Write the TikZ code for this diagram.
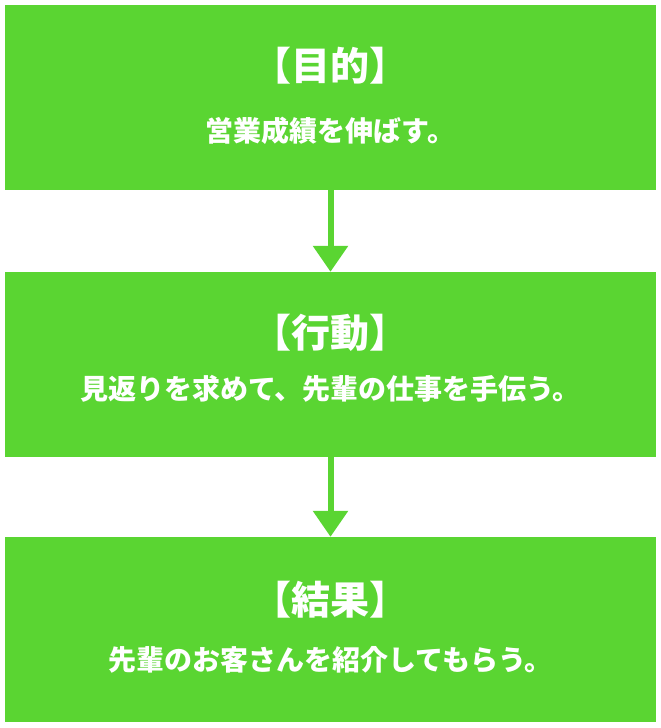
\documentclass[tikz,border=0pt]{standalone}
\usepackage{fontspec}
\usetikzlibrary{arrows.meta}
\newfontfamily\cjk{Noto Sans CJK JP}
\definecolor{lime}{HTML}{5AD532}
\begin{document}
\begin{tikzpicture}[x=1pt,y=-1pt,
  box/.style={fill=lime,draw=none,minimum width=651pt,minimum height=185pt,inner sep=0pt},
  ttl/.style={text=white,font=\cjk\bfseries\fontsize{39}{44}\selectfont},
  sub/.style={text=white,font=\cjk\bfseries\fontsize{28}{32}\selectfont},
  arr/.style={draw=lime,line width=6pt,-{Triangle[width=34pt,length=26pt]}}]
\useasboundingbox (0,0) rectangle (661,728);
\node[box] (b1) at (330.5,97.5) {};
\node[box] (b2) at (330.5,364.5) {};
\node[box] (b3) at (330.5,629.5) {};
\node[ttl] (t1) at (330.5,66) {【目的】};
\node[sub] (s1) at (330.5,131) {営業成績を伸ばす。};
\node[ttl] (t2) at (330.5,333) {【行動】};
\node[sub] (s2) at (330.5,389) {見返りを求めて、先輩の仕事を手伝う。};
\node[ttl] (t3) at (330.5,600) {【結果】};
\node[sub] (s3) at (330.5,660) {先輩のお客さんを紹介してもらう。};
\draw[arr] (b1.south) -- (b2.north);
\draw[arr] (b2.south) -- (b3.north);
\end{tikzpicture}
\end{document}
